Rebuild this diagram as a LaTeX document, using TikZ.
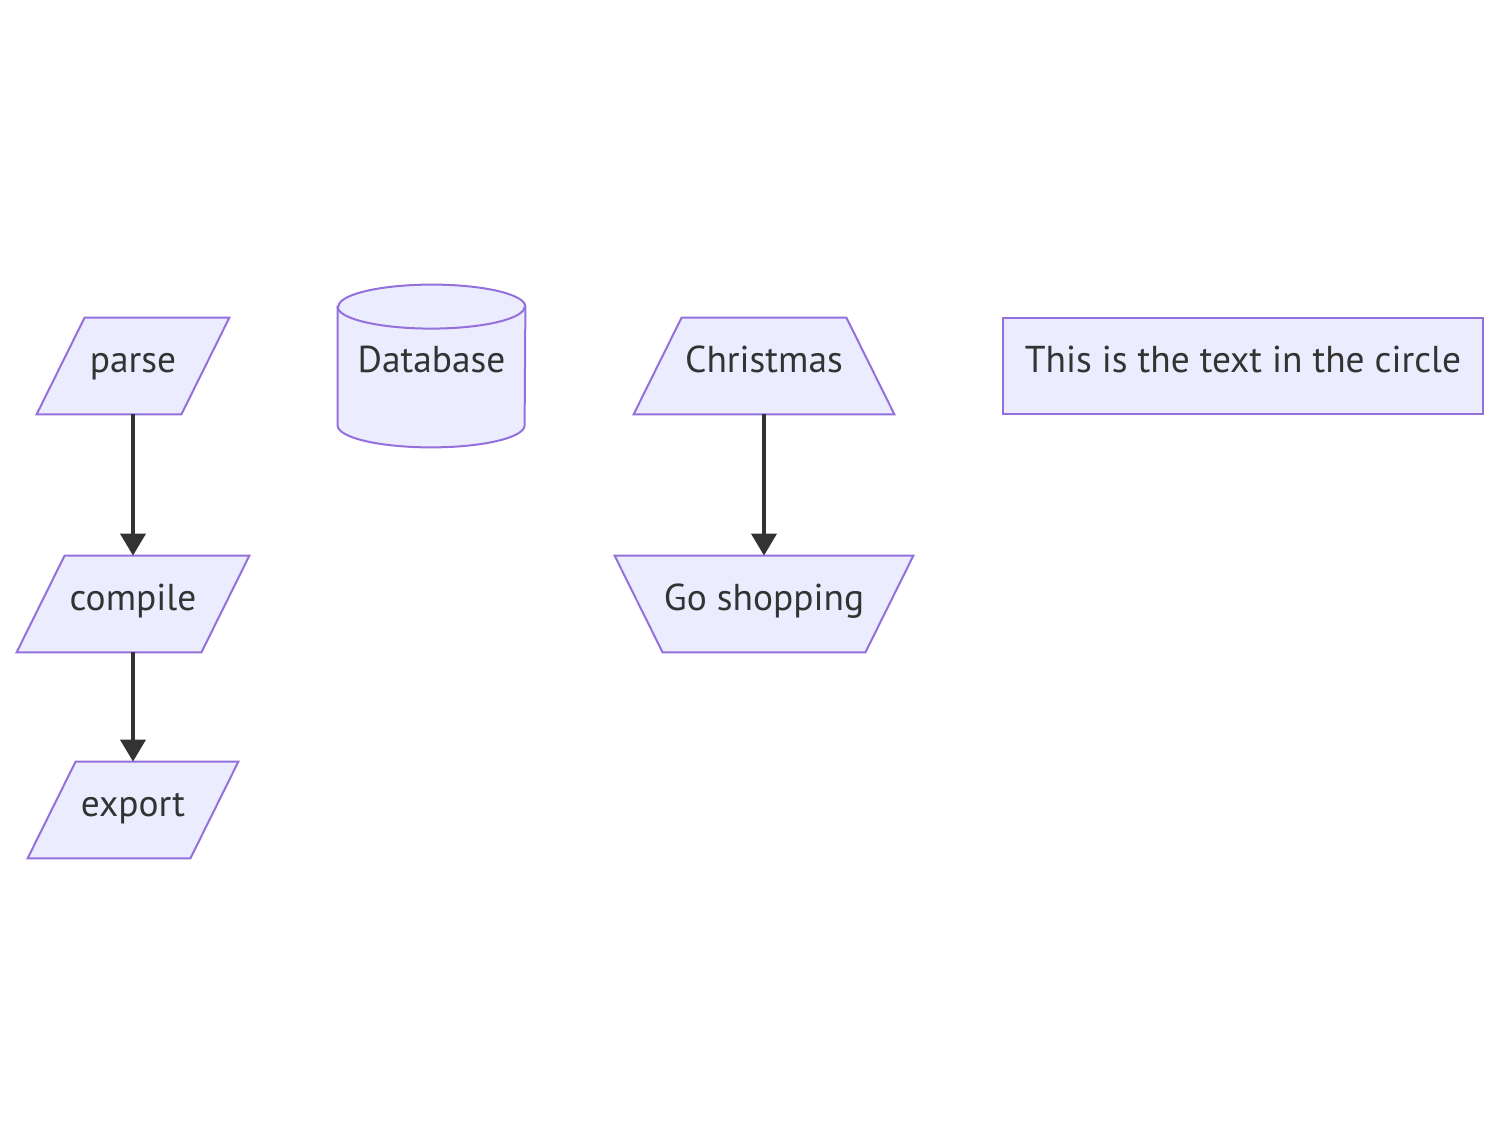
\documentclass[tikz,border=0pt]{standalone}
\usepackage{fontspec}
\setmainfont{PT Sans}
\usetikzlibrary{arrows.meta}
\usetikzlibrary{backgrounds}
\definecolor{boxfill}{HTML}{ECECFF}
\definecolor{boxline}{HTML}{9370DB}
\definecolor{ink}{HTML}{333333}
\tikzset{
  label/.style={text=ink, font=\fontsize{18.7}{22}\selectfont, inner sep=0pt,
    text height=10pt, text depth=3.3pt, minimum height=48pt},
  box/.style={label, draw=boxline, fill=boxfill, line width=1pt},
  outline/.style={draw=boxline, fill=boxfill, line width=1pt, line join=miter},
  flow/.style={->, draw=ink, line width=2pt}
}
\begin{document}
\begin{tikzpicture}[>={Triangle[length=11pt,width=12.5pt]}, x=0.5pt, y=-0.5pt]
        \useasboundingbox (0,0) rectangle (1500,1143);

        % lean right boxes
        \node[label, minimum width=96pt] (parse) at (133,366) {parse};
        \node[label, minimum width=116pt] (compile) at (133,604) {compile};
        \node[label, minimum width=105pt] (export) at (133,810) {export};

        \node[label, minimum width=93.5pt, minimum height=81pt] (db) at (431.5,366) {Database};

        % trapezoids
        \node[label, minimum width=130pt] (xmas) at (764,366) {Christmas};
        \node[label, minimum width=149pt] (shop) at (764,604) {Go shopping};

        \node[box, minimum width=240pt] (circle) at (1243,366) {This is the text in the circle};

        \begin{scope}[on background layer]
          \foreach \n in {parse, compile, export}
            \filldraw[outline] ([xshift=24pt]\n.north west) -- (\n.north east)
              -- ([xshift=-24pt]\n.south east) -- (\n.south west) -- cycle;
          \filldraw[outline] ([xshift=24pt]xmas.north west) -- ([xshift=-24pt]xmas.north east)
            -- (xmas.south east) -- (xmas.south west) -- cycle;
          \filldraw[outline] (shop.north west) -- (shop.north east)
            -- ([xshift=-24pt]shop.south east) -- ([xshift=24pt]shop.south west) -- cycle;
          \filldraw[outline] ([yshift=-11pt]db.north west) -- ([yshift=11pt]db.south west)
            arc[start angle=180, end angle=360, x radius=46.75pt, y radius=11pt]
            -- ([yshift=-11pt]db.north east)
            arc[start angle=0, end angle=180, x radius=46.75pt, y radius=11pt] -- cycle;
          \draw[outline, fill=none] ([yshift=-11pt]db.north west)
            arc[start angle=180, end angle=360, x radius=46.75pt, y radius=11pt];
        \end{scope}

        \draw[flow] (parse) -- (compile);
        \draw[flow] (compile) -- (export);
        \draw[flow] (xmas) -- (shop);
      \end{tikzpicture}
\end{document}
